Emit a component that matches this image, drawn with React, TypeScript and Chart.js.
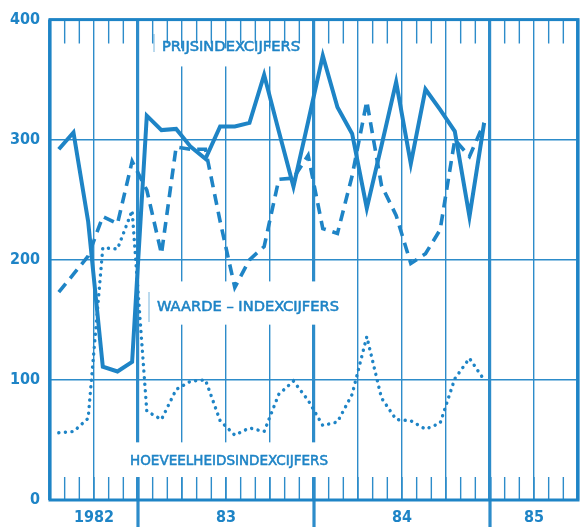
import React, { useEffect, useRef } from "react";
import { Chart, registerables } from "chart.js";

Chart.register(...registerables);

const BLUE = "rgb(30,132,198)";
const GRID = "rgb(45,140,202)";

// Monthly values, July 1982 .. December 1984 (30 months)
const prijs = [292, 306, 232, 111, 107, 115, 320, 308, 309, 294, 284, 311, 311, 314, 354, 307, 261, 315, 370, 327, 305, 243, 295, 348, 280, 342, 325, 307, 236, 314];
const waarde = [173, 188, 203, 236, 230, 282, 258, 205, 294, 292, 292, 232, 177, 200, 211, 267, 268, 287, 226, 222, 270, 332, 262, 237, 197, 205, 225, 300, 286, 314];
const hoeveelheid = [56, 57, 68, 210, 209, 241, 74, 67, 92, 99, 100, 66, 54, 60, 57, 88, 99, 83, 62, 65, 88, 136, 85, 67, 66, 59, 64, 101, 118, 100];

// Axis
const yearLabels = ["1982", "83", "84", "85"];
const yearStarts = [0, 6, 18, 30, 36]; // month index, 0 = July 1982
const yMin = 0;
const yMax = 400;
const yStep = 100;
const monthsOnAxis = 36;
const pointOffset = 0.6;

const labelPrijs = "PRIJSINDEXCIJFERS";
const labelWaarde = "WAARDE – INDEXCIJFERS";
const labelHoev = "HOEVEELHEIDSINDEXCIJFERS";

const FONT = '"DejaVu Sans Condensed", "Liberation Sans Narrow", "DejaVu Sans", sans-serif';

const toPoints = (arr: number[]) => arr.map((v, i) => ({ x: i + pointOffset, y: v }));

function fitText(ctx: CanvasRenderingContext2D, text: string, x: number, y: number, width: number) {
  const w = ctx.measureText(text).width;
  ctx.save();
  ctx.translate(x, y);
  ctx.scale(width / w, 1);
  ctx.fillText(text, 0, 0);
  ctx.strokeText(text, 0, 0);
  ctx.restore();
}

const decorPlugin = {
  id: "decor",
  beforeDatasetsDraw(chart: any) {
    const { ctx, chartArea: a, scales } = chart;
    const xs = scales.x;
    const ys = scales.y;
    const px = (v: number) => xs.getPixelForValue(v);
    const py = (v: number) => ys.getPixelForValue(v);
    ctx.save();

    // white label boxes interrupting the grid
    ctx.fillStyle = "#ffffff";
    ctx.fillRect(px(6) + 4, py(376), px(18) - px(6) - 10, py(361) - py(376));
    ctx.fillRect(px(6) + 6, py(182), px(20) - px(6) - 22, py(146) - py(182));
    ctx.fillRect(px(5) - 10, py(48), px(20) - px(5) - 14, py(19) - py(48));

    // month ticks, top and bottom inside the frame
    ctx.strokeStyle = GRID;
    ctx.lineWidth = 1.4;
    for (let m = 1; m < monthsOnAxis; m++) {
      if (m % 3 === 0) continue;
      const x = px(m);
      ctx.beginPath();
      ctx.moveTo(x, a.top);
      ctx.lineTo(x, a.top + 24);
      ctx.moveTo(x, a.bottom);
      ctx.lineTo(x, a.bottom - 23);
      ctx.stroke();
    }
    // quarter ticks at bottom where the grid was interrupted
    for (let m = 3; m < monthsOnAxis; m += 3) {
      const isYear = yearStarts.includes(m);
      ctx.lineWidth = isYear ? 3.2 : 1.4;
      ctx.beginPath();
      ctx.moveTo(px(m), a.bottom);
      ctx.lineTo(px(m), a.bottom - 23);
      ctx.stroke();
    }
    // year marks below the axis
    ctx.lineWidth = 3.2;
    for (const m of yearStarts.slice(1, -1)) {
      ctx.beginPath();
      ctx.moveTo(px(m), a.bottom);
      ctx.lineTo(px(m), a.bottom + 27);
      ctx.stroke();
    }

    // frame
    ctx.lineWidth = 3;
    ctx.strokeStyle = BLUE;
    ctx.strokeRect(a.left, a.top, a.right - a.left, a.bottom - a.top);

    // year labels
    ctx.fillStyle = BLUE;
    ctx.font = `bold 16px ${FONT}`;
    ctx.textAlign = "center";
    ctx.textBaseline = "middle";
    for (let k = 0; k < yearLabels.length; k++) {
      const c = (px(yearStarts[k]) + px(yearStarts[k + 1])) / 2;
      ctx.fillText(yearLabels[k], c, a.bottom + 18);
    }

    // series labels
    ctx.font = `14px ${FONT}`;
    ctx.textAlign = "left";
    ctx.textBaseline = "middle";
    ctx.strokeStyle = BLUE;
    ctx.lineWidth = 0.5;
    fitText(ctx, labelPrijs, 162, 47, 138);
    fitText(ctx, labelWaarde, 157, 307, 182);
    fitText(ctx, labelHoev, 130, 461, 198);

    // small paste marks
    ctx.strokeStyle = "rgba(60,150,205,0.7)";
    ctx.lineWidth = 1;
    ctx.beginPath();
    ctx.moveTo(154, 34);
    ctx.lineTo(154, 52);
    ctx.moveTo(149, 292);
    ctx.lineTo(149, 322);
    ctx.stroke();
    ctx.restore();
  },
};

export default function App() {
  const ref = useRef<HTMLCanvasElement | null>(null);
  useEffect(() => {
    document.body.style.margin = "0";
    document.body.style.background = "#ffffff";
    const canvas = ref.current!;
    const chart = new Chart(canvas, {
      type: "line",
      data: {
        datasets: [
          {
            label: labelPrijs,
            data: toPoints(prijs),
            borderColor: BLUE,
            borderWidth: 4,
            pointRadius: 0,
            tension: 0,
            fill: false,
          },
          {
            label: labelWaarde,
            data: toPoints(waarde),
            borderColor: BLUE,
            borderWidth: 3.6,
            borderDash: [11, 7],
            pointRadius: 0,
            tension: 0,
            fill: false,
          },
          {
            label: labelHoev,
            data: toPoints(hoeveelheid),
            borderColor: BLUE,
            borderWidth: 3.4,
            borderDash: [0.1, 6.5],
            borderCapStyle: "round",
            pointRadius: 0,
            tension: 0,
            fill: false,
          },
        ],
      },
      options: {
        animation: false,
        responsive: false,
        maintainAspectRatio: false,
        devicePixelRatio: 1,
        layout: { padding: { top: 13, right: 3, bottom: 29, left: 0 } },
        plugins: { legend: { display: false }, tooltip: { enabled: false } },
        scales: {
          x: {
            type: "linear",
            min: 0,
            max: monthsOnAxis,
            afterFit: (s: any) => {
              s.height = 0;
            },
            ticks: { display: false, stepSize: 1, autoSkip: false },
            border: { display: false },
            grid: {
              drawTicks: false,
              color: (c: any) => (c.tick && c.tick.value % 3 === 0 ? GRID : "rgba(0,0,0,0)"),
              lineWidth: (c: any) => (c.tick && yearStarts.includes(c.tick.value) ? 3.2 : 1.4),
            },
          },
          y: {
            min: yMin,
            max: yMax,
            afterFit: (s: any) => {
              s.width = 50;
            },
            ticks: {
              stepSize: yStep,
              color: BLUE,
              padding: 10,
              font: { family: FONT, size: 16, weight: "bold" },
            },
            border: { display: false },
            grid: { drawTicks: false, color: GRID, lineWidth: 1.4 },
          },
        },
      },
      plugins: [decorPlugin],
    } as any);
    return () => chart.destroy();
  }, []);
  return <canvas ref={ref} width={581} height={529} style={{ display: "block" }} />;
}
